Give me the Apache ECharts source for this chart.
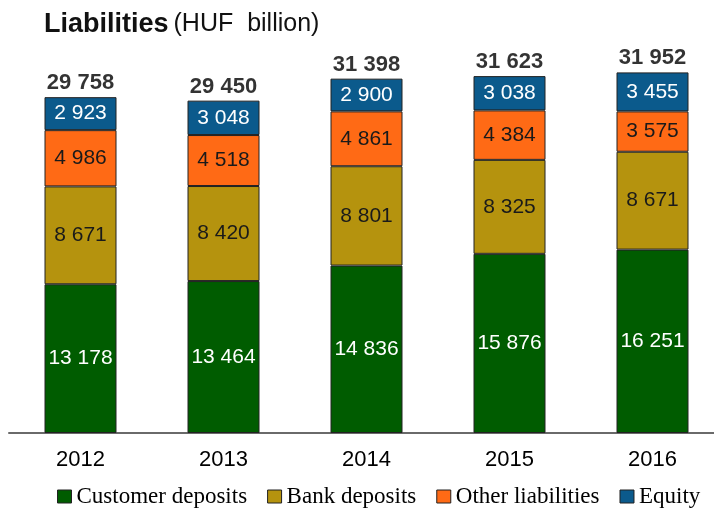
<!DOCTYPE html>
<html>
<head>
<meta charset="utf-8">
<script src="https://cdn.jsdelivr.net/npm/echarts@6/dist/echarts.min.js"></script>
<style>
  html, body { margin: 0; padding: 0; background: #fff; }
  #chart { width: 714px; height: 510px; }
</style>
</head>
<body>
<div id="chart"></div>
<script>
// data
var years = ["2012", "2013", "2014", "2015", "2016"];
var customerDeposits = [13178, 13464, 14836, 15876, 16251];
var bankDeposits = [8671, 8420, 8801, 8325, 8671];
var otherLiabilities = [4986, 4518, 4861, 4384, 3575];
var equity = [2923, 3048, 2900, 3038, 3455];
var totals = [29758, 29450, 31398, 31623, 31952];

// 13178 -> "13 178"
function fmt(v) {
  return String(v).replace(/\B(?=(\d{3})+(?!\d))/g, " ");
}

function seg(name, data, color, textColor) {
  return {
    name: name,
    type: "bar",
    stack: "total",
    barWidth: 72,
    data: data,
    itemStyle: { color: color, borderColor: "#222", borderWidth: 1 },
    label: {
      show: true,
      position: "inside",
      color: textColor,
      fontFamily: "Liberation Sans",
      fontSize: 21,
      formatter: function (p) { return fmt(p.value); }
    }
  };
}

var myChart = echarts.init(document.getElementById("chart"));
var option = {
  animation: false,
  title: {
    text: "{b|Liabilities} {n|(HUF  billion)}",
    left: 44,
    top: 11,
    padding: 0,
    textStyle: {
      rich: {
        b: { fontFamily: "Liberation Sans", fontWeight: "bold", fontSize: 27, color: "#111" },
        n: { fontFamily: "Liberation Sans", fontWeight: "normal", fontSize: 25, color: "#111" }
      }
    }
  },
  legend: {
    top: 485,
    left: 57,
    padding: 0,
    itemWidth: 14,
    itemHeight: 13,
    itemGap: 20,
    icon: "rect",
    textStyle: { fontFamily: "Liberation Serif", fontSize: 23, color: "#000" },
    itemStyle: { borderColor: "#222", borderWidth: 1 },
    data: ["Customer deposits", "Bank deposits", "Other liabilities", "Equity"]
  },
  grid: { left: 9, width: 715, top: 38, bottom: 77, outerBoundsMode: "none" },
  xAxis: {
    type: "category",
    data: years,
    axisTick: { show: false },
    axisLine: { lineStyle: { color: "#6a6a6a", width: 2 } },
    axisLabel: { fontFamily: "Liberation Sans", fontSize: 22, color: "#000", margin: 16 }
  },
  yAxis: {
    type: "value",
    min: 0,
    max: 35000,
    show: false,
    splitLine: { show: false }
  },
  series: [
    seg("Customer deposits", customerDeposits, "#005C00", "#fff"),
    seg("Bank deposits", bankDeposits, "#B5930E", "#1a1a1a"),
    seg("Other liabilities", otherLiabilities, "#FF6A15", "#1a1a1a"),
    seg("Equity", equity, "#0B5A8C", "#fff"),
    {
      name: "totals",
      type: "scatter",
      data: totals,
      symbolSize: 0,
      silent: true,
      label: {
        show: true,
        position: "top",
        distance: 3,
        color: "#000",
        fontFamily: "Liberation Sans",
        fontWeight: "bold",
        fontSize: 22,
        formatter: function (p) { return fmt(p.value); }
      }
    }
  ]
};
myChart.setOption(option);
</script>
</body>
</html>
